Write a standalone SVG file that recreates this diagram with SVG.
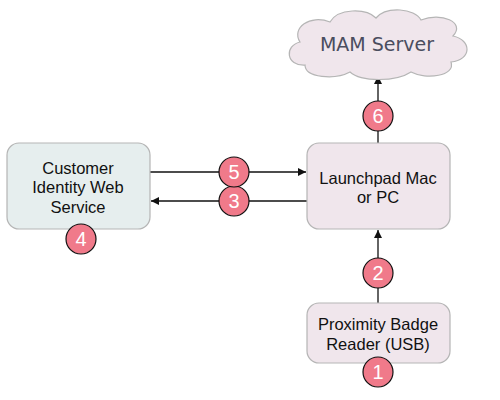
<svg xmlns="http://www.w3.org/2000/svg" width="500" height="400" viewBox="0 0 500 400">
<defs>
<style>
.box{stroke:#b5b5b5;stroke-width:1.2}
.lbl{font-family:"Liberation Sans",Arial,sans-serif;font-size:16.5px;fill:#111;text-anchor:middle}
.num circle{fill:#f07a8a;stroke:#111;stroke-width:1.2}
.num text{font-family:"Liberation Sans",Arial,sans-serif;font-size:20px;fill:#fff;text-anchor:middle}
.edge{stroke:#111;stroke-width:1.3;fill:none}
</style>
<marker id="ah" viewBox="0 0 10 10" refX="10" refY="5" markerWidth="8" markerHeight="8" markerUnits="userSpaceOnUse" orient="auto">
<path d="M0,0 L10,5 L0,10 Z" fill="#111"/>
</marker>
</defs>
<rect width="500" height="400" fill="#fff"/>
<g id="connectors">
<line class="edge" x1="150" y1="172" x2="306" y2="172" marker-end="url(#ah)"/>
<line class="edge" x1="307" y1="201" x2="151" y2="201" marker-end="url(#ah)"/>
<line class="edge" x1="378" y1="303" x2="378" y2="230" marker-end="url(#ah)"/>
<line class="edge" x1="378" y1="143" x2="378" y2="76" marker-end="url(#ah)"/>
</g>
<g id="mam-server">
<path class="box" fill="#f0e6ec" d="M305 65 C286 66,284 46,300 42 C291 28,310 14,330 22 C338 8,366 8,376 18 C386 6,415 8,421 20 C441 12,466 22,453 36 C472 40,472 60,451 62 C456 76,426 80,411 72 C396 82,361 82,350 72 C335 80,305 78,305 65 Z"/>
<text x="377" y="51" font-family="Verdana,'DejaVu Sans',sans-serif" font-size="19" fill="#4a4d5e" text-anchor="middle">MAM Server</text>
</g>
<g id="customer-identity">
<rect class="box" x="7" y="143" width="143" height="86" rx="12" fill="#e6eeee"/>
<text class="lbl" x="78" y="174">Customer</text>
<text class="lbl" x="78" y="193">Identity Web</text>
<text class="lbl" x="78" y="213">Service</text>
</g>
<g id="launchpad">
<rect class="box" x="307" y="143" width="143" height="86" rx="12" fill="#f0e6ec"/>
<text class="lbl" x="378" y="184">Launchpad Mac</text>
<text class="lbl" x="378" y="203">or PC</text>
</g>
<g id="badge-reader">
<rect class="box" x="307" y="303" width="143" height="60" rx="12" fill="#f0e6ec"/>
<text class="lbl" x="378" y="330">Proximity Badge</text>
<text class="lbl" x="378" y="350">Reader (USB)</text>
</g>
<g id="step1" class="num"><circle cx="378" cy="372" r="15"/><text x="378" y="379">1</text></g>
<g id="step2" class="num"><circle cx="378" cy="273" r="15"/><text x="378" y="280">2</text></g>
<g id="step3" class="num"><circle cx="234" cy="201" r="15"/><text x="234" y="208">3</text></g>
<g id="step4" class="num"><circle cx="81" cy="239" r="15"/><text x="81" y="246">4</text></g>
<g id="step5" class="num"><circle cx="234" cy="172" r="15"/><text x="234" y="179">5</text></g>
<g id="step6" class="num"><circle cx="378" cy="116" r="15"/><text x="378" y="123">6</text></g>
</svg>
